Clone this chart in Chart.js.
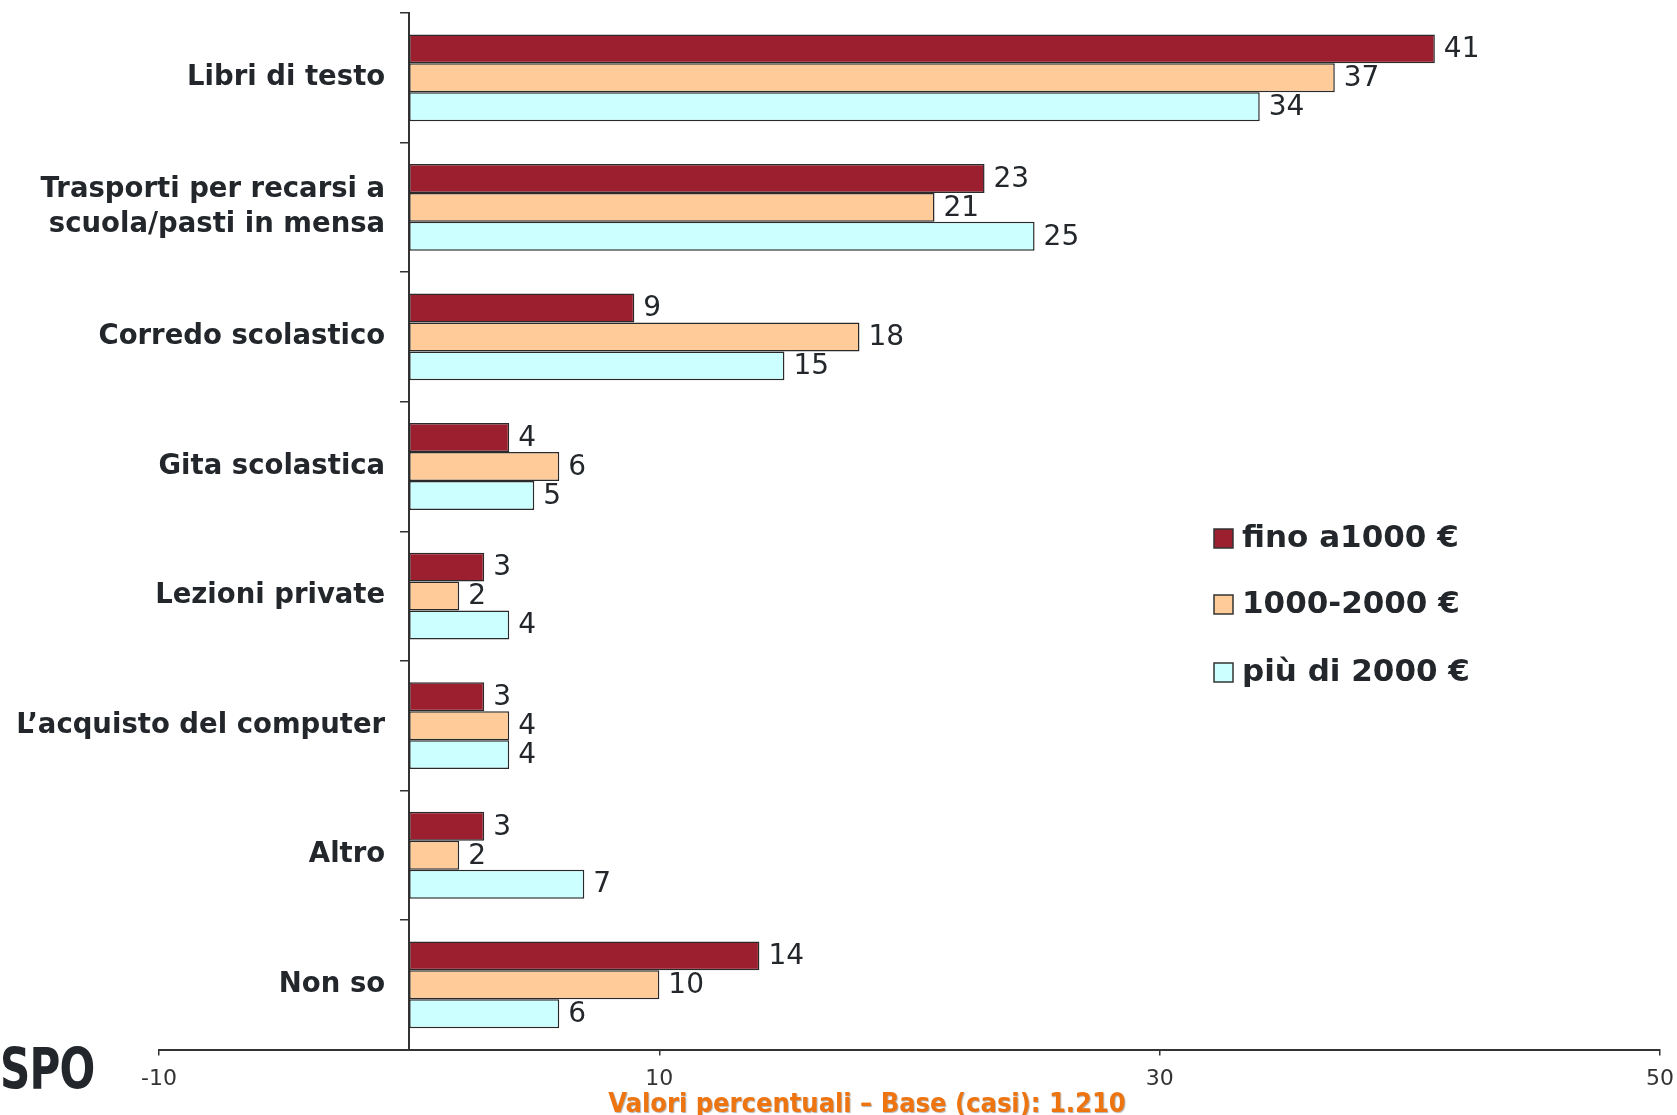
<!DOCTYPE html>
<html>
<head>
<meta charset="utf-8">
<script src="https://cdn.jsdelivr.net/npm/chart.js@4/dist/chart.umd.min.js"></script>
<style>
  html, body { margin: 0; padding: 0; background: #ffffff; }
  #wrap { position: relative; width: 1677px; height: 1115px; overflow: hidden; }
  #logo { position: absolute; left: 0px; top: 1031px; font-family: "DejaVu Sans Condensed", "DejaVu Sans", sans-serif; font-weight: bold; font-size: 57px; line-height: 76px; color: #23272b; transform: scaleX(0.82); transform-origin: left top; letter-spacing: -1px; }
</style>
</head>
<body>
<div id="wrap">
  <canvas id="c" width="1677" height="1115"></canvas>
  <div id="logo">SPO</div>
</div>
<script>
const categories = [
  "Libri di testo",
  ["Trasporti per recarsi a", "scuola/pasti in mensa"],
  "Corredo scolastico",
  "Gita scolastica",
  "Lezioni private",
  "L’acquisto del computer",
  "Altro",
  "Non so"
];
const seriesNames = ["fino a1000 €", "1000-2000 €", "più di 2000 €"];
const fino1000 = [41, 23, 9, 4, 3, 3, 3, 14];
const da1000a2000 = [37, 21, 18, 6, 2, 4, 2, 10];
const oltre2000 = [34, 25, 15, 5, 4, 4, 7, 6];
const seriesColors = ["#9B1F2E", "#FFCC99", "#CCFFFF"];
const xTicks = [-10, 10, 30, 50];
const axisTitle = "Valori percentuali – Base (casi): 1.210";

const seriesValues = [fino1000, da1000a2000, oltre2000];

const shiftYLabels = {
  id: 'shiftYLabels',
  beforeDraw(chart) {
    const s = chart.scales.y;
    const items = s.getLabelItems(chart.chartArea);
    if (!items._shifted) {
      items.forEach(it => { it.options.translation[0] -= 24; });
      items._shifted = true;
    }
  }
};

const valueLabels = {
  id: 'valueLabels',
  afterDatasetsDraw(chart) {
    const ctx = chart.ctx;
    ctx.save();
    ctx.font = '28px "DejaVu Sans", sans-serif';
    ctx.fillStyle = '#23272b';
    ctx.textAlign = 'left';
    ctx.textBaseline = 'middle';
    chart.data.datasets.forEach((ds, i) => {
      chart.getDatasetMeta(i).data.forEach((bar, j) => {
        ctx.fillText(String(ds.data[j]), bar.x + 9, bar.y + 1);
      });
    });
    ctx.restore();
  }
};

const customLegend = {
  id: 'customLegend',
  afterDraw(chart) {
    const ctx = chart.ctx;
    const boxX = 1214, textX = 1242;
    const rows = [538, 604, 672];
    ctx.save();
    ctx.font = 'bold 31px "DejaVu Sans", sans-serif';
    ctx.textBaseline = 'middle';
    ctx.textAlign = 'left';
    chart.data.datasets.forEach((ds, i) => {
      const y = rows[i];
      ctx.fillStyle = ds.backgroundColor;
      ctx.fillRect(boxX, y - 9, 19, 19);
      ctx.strokeStyle = '#333';
      ctx.lineWidth = 1.5;
      ctx.strokeRect(boxX, y - 9, 19, 19);
      ctx.fillStyle = '#23272b';
      ctx.fillText(ds.label, textX, y + 1);
    });
    ctx.restore();
  }
};

const bottomTitle = {
  id: 'bottomTitle',
  afterDraw(chart) {
    const ctx = chart.ctx;
    ctx.save();
    ctx.font = 'bold 27px "DejaVu Sans Condensed", "DejaVu Sans", sans-serif';
    ctx.textAlign = 'center';
    ctx.textBaseline = 'alphabetic';
    ctx.shadowColor = 'rgba(0,0,0,0.3)';
    ctx.shadowOffsetX = 1;
    ctx.shadowOffsetY = 1;
    ctx.shadowBlur = 1;
    ctx.fillStyle = '#EE7410';
    ctx.fillText(axisTitle, 867, 1112);
    ctx.restore();
  }
};

new Chart(document.getElementById('c'), {
  type: 'bar',
  data: {
    labels: categories,
    datasets: seriesNames.map((name, i) => ({
      label: name,
      data: seriesValues[i],
      backgroundColor: seriesColors[i],
      borderColor: '#2a2a2a',
      borderWidth: 1.5,
      borderSkipped: false,
      categoryPercentage: 0.67,
      barPercentage: 1.0
    }))
  },
  options: {
    indexAxis: 'y',
    responsive: false,
    animation: false,
    layout: { padding: { left: 159, right: 17, top: 13, bottom: 13 } },
    plugins: {
      legend: { display: false },
      tooltip: { enabled: false }
    },
    scales: {
      x: {
        type: 'linear',
        min: -10,
        max: 50,
        afterBuildTicks(scale) { scale.ticks = xTicks.map(v => ({ value: v })); },
        afterFit(scale) { scale.paddingLeft = 0; scale.paddingRight = 0; },
        grid: { drawOnChartArea: false, drawTicks: true, tickLength: 6, color: '#333', lineWidth: 1.5 },
        border: { color: '#333', width: 2 },
        ticks: { font: { family: '"DejaVu Sans", sans-serif', size: 22 }, color: '#333', padding: 10, maxRotation: 0 }
      },
      y: {
        position: { x: 0 },
        afterFit(scale) { scale.paddingTop = 0; scale.paddingBottom = 0; },
        grid: { drawOnChartArea: false, drawTicks: true, tickLength: 8, color: '#333', lineWidth: 1.5, offset: true },
        border: { color: '#333', width: 2 },
        ticks: { font: { family: '"DejaVu Sans", sans-serif', size: 27.5, weight: 'bold', lineHeight: 1.27 }, color: '#23272b', padding: 18 }
      }
    }
  },
  plugins: [shiftYLabels, valueLabels, customLegend, bottomTitle]
});
</script>
</body>
</html>
